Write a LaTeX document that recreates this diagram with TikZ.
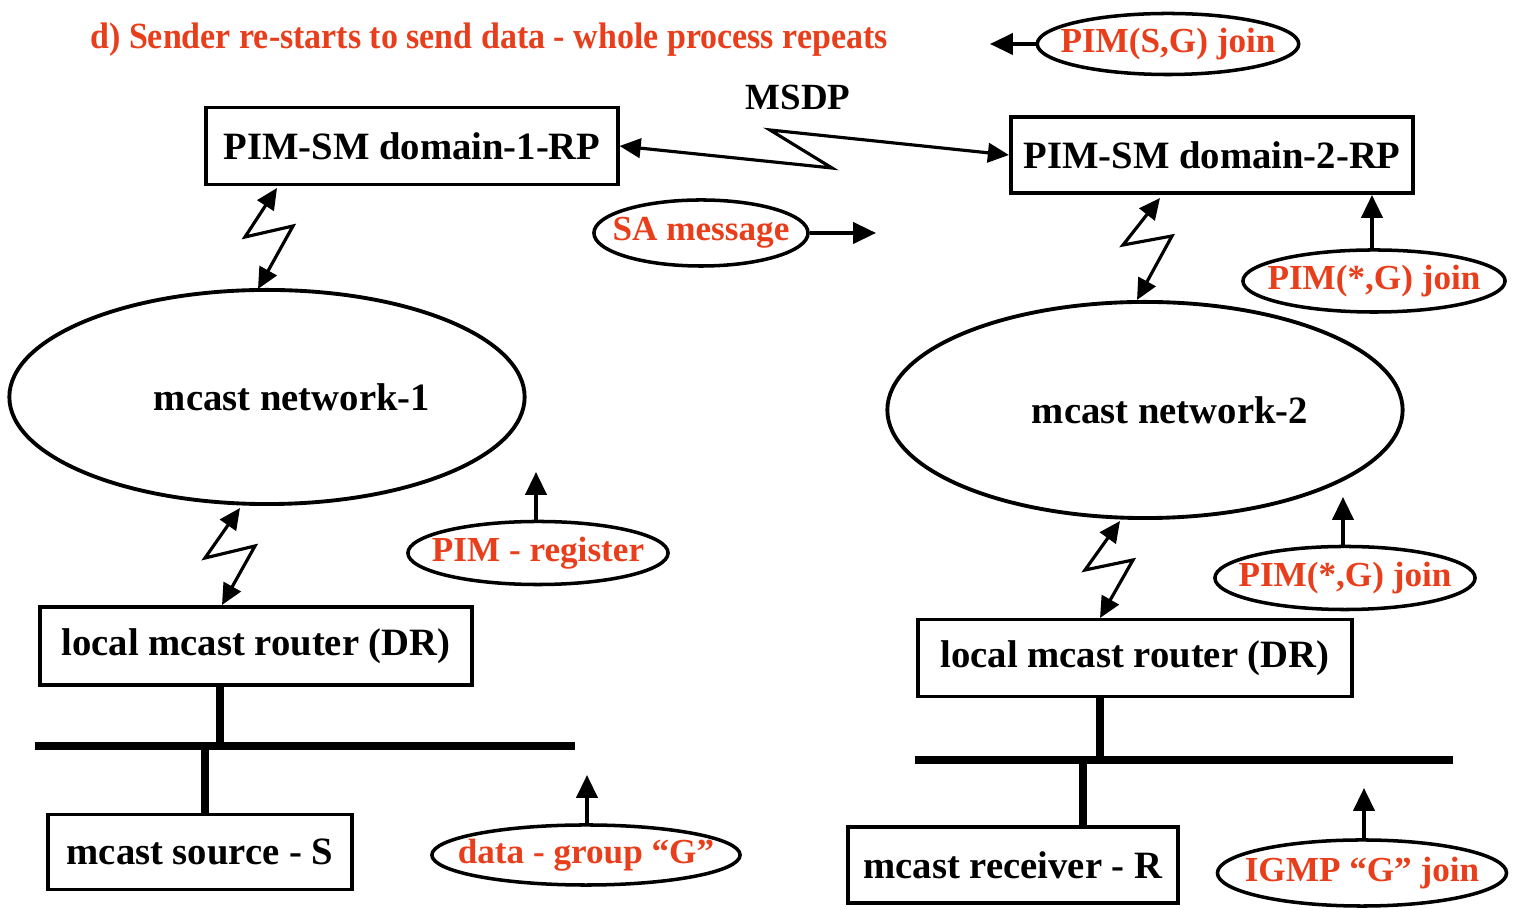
\documentclass[tikz,border=0pt]{standalone}
\usepackage{fontspec}
\setmainfont{Liberation Serif}
\usetikzlibrary{shapes.geometric,arrows.meta}
\definecolor{msgred}{RGB}{232,62,28}
\begin{document}
\begin{tikzpicture}[x=0.01cm,y=-0.01cm,
    box/.style={draw,line width=1.1pt,rectangle,inner sep=0pt,font=\fontsize{11}{13}\selectfont\bfseries},
    cloud/.style={draw,line width=1.1pt,ellipse,inner sep=0pt,minimum width=5.15cm,minimum height=2.14cm},
    msg/.style={draw,line width=1pt,ellipse,inner xsep=-1.5mm,inner ysep=0pt,text=msgred,font=\fontsize{10}{12}\selectfont\bfseries},
    tip/.style={line width=1pt,-{Triangle[length=6.5pt,width=6pt]}},
    bolt/.style={line width=0.9pt,{Triangle[length=6pt,width=5.5pt]}-{Triangle[length=6pt,width=5.5pt]}},
    bus/.style={line width=2.4pt}]
    \useasboundingbox (0,0) rectangle (1514,910);

    \node (title) at (489,40) {\scalebox{0.92}[1]{\fontsize{10.5}{12}\selectfont\bfseries\color{msgred}d) Sender re-starts to send data - whole process repeats}};
    \node[font=\fontsize{10.5}{12}\selectfont\bfseries] (msdp) at (798,97) {MSDP};

    % domain 1
    \node[box,minimum width=4.11cm,minimum height=0.77cm] (rp1) at (412,146) {PIM-SM domain-1-RP};
    \node[cloud] (net1) at (267,397) {};
    \node[font=\fontsize{11}{13}\selectfont\bfseries] (net1t) at (292,397) {mcast network-1};
    \node[box,minimum width=4.32cm,minimum height=0.78cm] (dr1) at (256,646) {local mcast router (DR)};
    \node[box,minimum width=3.04cm,minimum height=0.75cm] (src) at (200,852) {mcast source - S};
    \coordinate (bus1a) at (35,746);
    \coordinate (bus1b) at (575,746);

    \node[msg,minimum width=2.14cm,minimum height=0.66cm] (sa) at (701,233) {SA message};
    \node[msg,minimum width=2.6cm,minimum height=0.63cm] (reg) at (538,553) {PIM - register};
    \node[msg,inner xsep=-2mm,minimum width=3.08cm,minimum height=0.6cm] (data) at (586,855) {data - group ``G''};

    % domain 2
    \node[box,minimum width=4.02cm,minimum height=0.76cm] (rp2) at (1212,155) {PIM-SM domain-2-RP};
    \node[cloud,minimum height=2.16cm] (net2) at (1145,410) {};
    \node[font=\fontsize{11}{13}\selectfont\bfseries] (net2t) at (1170,410) {mcast network-2};
    \node[box,minimum width=4.34cm,minimum height=0.77cm] (dr2) at (1135,658) {local mcast router (DR)};
    \node[box,minimum width=3.29cm,minimum height=0.76cm] (rcv) at (1013,865) {mcast receiver - R};
    \coordinate (bus2a) at (915,760);
    \coordinate (bus2b) at (1453,760);

    \node[msg,minimum width=2.57cm,minimum height=0.61cm] (sg) at (1168,44) {PIM(S,G) join};
    \node[msg,minimum width=2.62cm,minimum height=0.62cm] (jn1) at (1374,281) {PIM(*,G) join};
    \node[msg,minimum width=2.6cm,minimum height=0.63cm] (jn2) at (1345,578) {PIM(*,G) join};
    \node[msg,minimum width=2.87cm,minimum height=0.66cm] (igmp) at (1362,873) {IGMP ``G'' join};

    % MSDP link
    \coordinate (m1) at (832,168);
    \coordinate (m2) at (770,130);
    \draw[bolt] (rp1.east) -- (m1) -- (m2) -- (rp2.west);

    % zigzag links
    \coordinate (a1) at (277,188);
    \coordinate (a2) at (245,237);
    \coordinate (a3) at (293,226);
    \coordinate (a4) at (258,289);
    \draw[bolt] (a1) -- (a2) -- (a3) -- (a4);
    \coordinate (b1) at (240,508);
    \coordinate (b2) at (205,558);
    \coordinate (b3) at (255,546);
    \coordinate (b4) at (222,605);
    \draw[bolt] (b1) -- (b2) -- (b3) -- (b4);
    \coordinate (c1) at (1160,198);
    \coordinate (c2) at (1123,245);
    \coordinate (c3) at (1172,236);
    \coordinate (c4) at (1137,300);
    \draw[bolt] (c1) -- (c2) -- (c3) -- (c4);
    \coordinate (d1) at (1120,521);
    \coordinate (d2) at (1085,570);
    \coordinate (d3) at (1133,560);
    \coordinate (d4) at (1100,618);
    \draw[bolt] (d1) -- (d2) -- (d3) -- (d4);

    % LAN segments
    \draw[bus] (bus1a) -- (bus1b);
    \draw[bus] (dr1.south -| 220,0) -- (bus1a -| 220,0);
    \draw[bus] (bus1a -| 205,0) -- (src.north -| 205,0);
    \draw[bus] (bus2a) -- (bus2b);
    \draw[bus] (dr2.south -| 1100,0) -- (bus2a -| 1100,0);
    \draw[bus] (bus2a -| 1083,0) -- (rcv.north -| 1083,0);

    % message arrows
    \coordinate (saend) at (876,233);
    \coordinate (sgend) at (990,44);
    \coordinate (regend) at (536,472);
    \coordinate (dataend) at (587,775);
    \coordinate (jn2end) at (1343,497);
    \coordinate (igmpend) at (1364,788);
    \draw[tip] (sa.east) -- (saend);
    \draw[tip] (sg.west) -- (sgend);
    \draw[tip] (reg.north -| regend) -- (regend);
    \draw[tip] (data.north -| dataend) -- (dataend);
    \draw[tip] (jn1.north -| 1372,0) -- (rp2.south -| 1372,0);
    \draw[tip] (jn2.north -| jn2end) -- (jn2end);
    \draw[tip] (igmp.north -| igmpend) -- (igmpend);
\end{tikzpicture}
\end{document}
